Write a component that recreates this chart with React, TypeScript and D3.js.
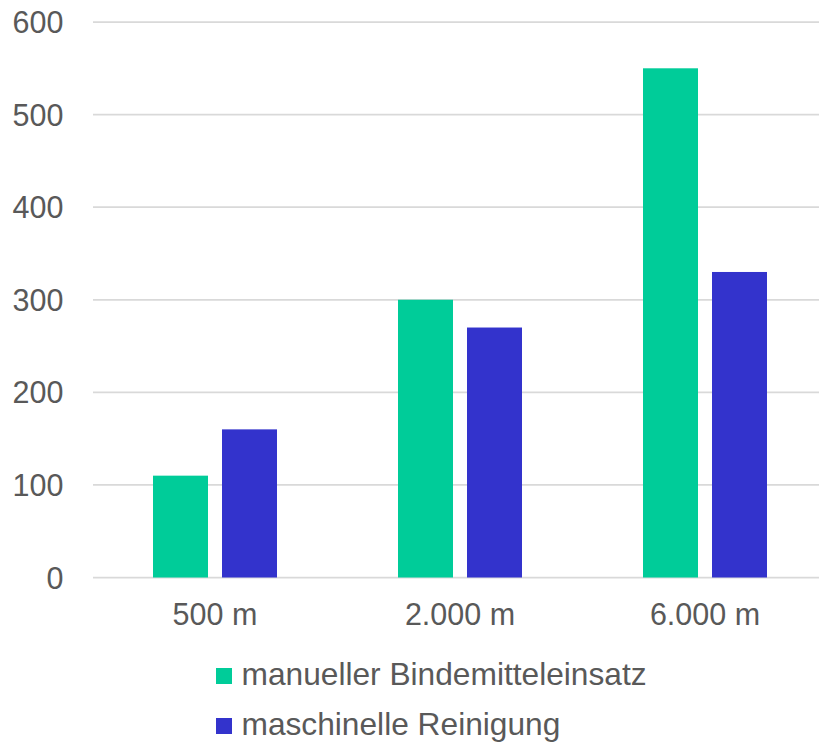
import React from "react";
import * as d3 from "d3";

const categories = ["500 m", "2.000 m", "6.000 m"];
const seriesNames = ["manueller Bindemitteleinsatz", "maschinelle Reinigung"];
const manuellValues = [110, 300, 550];
const maschinellValues = [160, 270, 330];
const yTicks = [0, 100, 200, 300, 400, 500, 600];
const colors = ["#00CC99", "#3333CC"];

const W = 819;
const H = 745;

export default function App() {
  const x = d3.scaleBand<string>().domain(categories).range([92.5, 827.5]).padding(0);
  const inner = d3
    .scaleBand<string>()
    .domain(seriesNames)
    .range([60.5, 184.5])
    .paddingInner(14 / 69)
    .paddingOuter(0);
  const y = d3.scaleLinear().domain([0, 600]).range([577.5, 22]);
  const series = [manuellValues, maschinellValues];
  const textStyle = { fontFamily: "Arial, 'Liberation Sans', sans-serif" };
  const textColor = "#595959";

  return (
    <svg
      width={W}
      height={H}
      style={{ position: "absolute", left: 0, top: 0, background: "#fff" }}
    >
      {yTicks.map((t) => (
        <g key={t}>
          <line x1={93} x2={W} y1={y(t)} y2={y(t)} stroke="#d9d9d9" strokeWidth={1.75} />
          <text x={63.5} y={y(t) + 11} textAnchor="end" fontSize={30.5} fill={textColor} style={textStyle}>
            {t}
          </text>
        </g>
      ))}
      {categories.map((c, i) => (
        <g key={c}>
          {series.map((vals, s) => (
            <rect
              key={s}
              x={(x(c) as number) + (inner(seriesNames[s]) as number)}
              width={inner.bandwidth()}
              y={y(vals[i])}
              height={y(0) - y(vals[i])}
              fill={colors[s]}
            />
          ))}
          <text
            x={(x(c) as number) + x.bandwidth() / 2}
            y={625}
            textAnchor="middle"
            fontSize={30.5}
            fill={textColor}
            style={textStyle}
          >
            {c}
          </text>
        </g>
      ))}
      {seriesNames.map((n, s) => (
        <g key={n}>
          <rect x={216} y={668 + s * 50} width={16} height={16} fill={colors[s]} />
          <text x={241.5} y={685 + s * 50} fontSize={31.7} fill={textColor} style={textStyle}>
            {n}
          </text>
        </g>
      ))}
    </svg>
  );
}
